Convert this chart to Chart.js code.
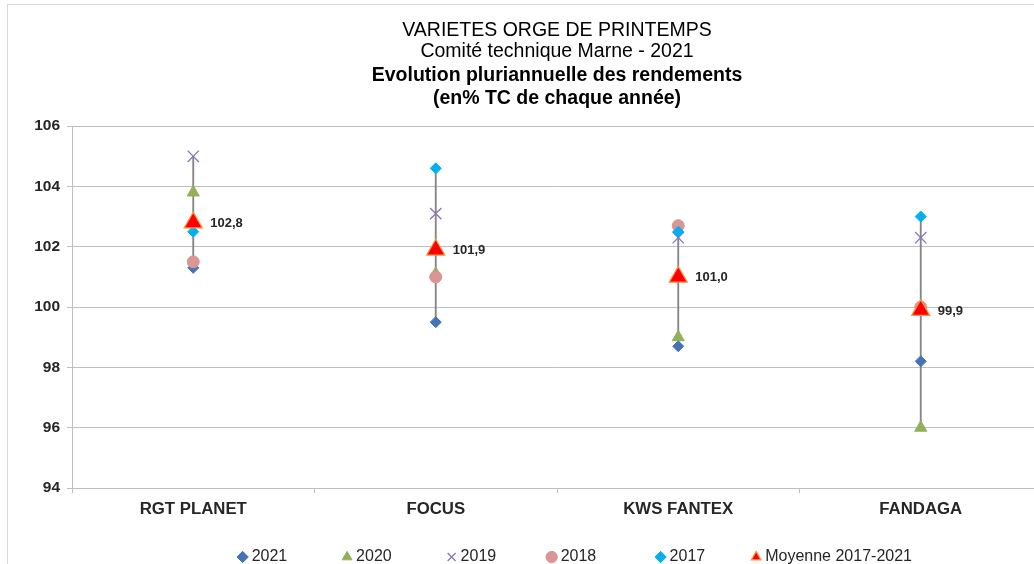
<!DOCTYPE html>
<html>
<head>
<meta charset="utf-8">
<script src="https://cdn.jsdelivr.net/npm/chart.js@4/dist/chart.umd.min.js"></script>
<style>
  html, body { margin: 0; padding: 0; background: #fff; overflow: hidden; }
  #frame { position: absolute; left: 7px; top: 4px; border-left: 1px solid #d9d9d9; border-top: 1px solid #d9d9d9; width: 1200px; height: 700px; }
  #chart { display: block; }
</style>
</head>
<body>
<div id="frame"><canvas id="chart" width="1102" height="570"></canvas></div>
<script>
const categories = ["RGT PLANET", "FOCUS", "KWS FANTEX", "FANDAGA"];
const y2021 = [101.3, 99.5, 98.7, 98.2];
const y2020 = [103.8, 101.1, 99.0, 96.0];
const y2019 = [105.0, 103.1, 102.3, 102.3];
const y2018 = [101.5, 101.0, 102.7, 100.0];
const y2017 = [102.5, 104.6, 102.5, 103.0];
const moyenne = [102.8, 101.9, 101.0, 99.9];
const yTicks = [94, 96, 98, 100, 102, 104, 106];

const FONT = "'Liberation Sans', Arial, sans-serif";

// trait vertical min-max pour chaque variété
const allSeries = [y2021, y2020, y2019, y2018, y2017];
const ranges = categories.map((c, i) => {
  const v = allSeries.map(s => s[i]);
  return [Math.min(...v), Math.max(...v)];
});

// espaces ajoutés derrière chaque libellé de légende pour l'espacement
const legendGaps = [11, 11, 10, 12, 9, 27];

const avgLabels = {
  id: "avgLabels",
  afterDatasetsDraw(chart) {
    const idx = chart.data.datasets.findIndex(d => d.label === "Moyenne 2017-2021");
    const meta = chart.getDatasetMeta(idx);
    const ctx = chart.ctx;
    ctx.save();
    ctx.font = "bold 13px " + FONT;
    ctx.fillStyle = "#262626";
    ctx.textAlign = "left";
    ctx.textBaseline = "middle";
    meta.data.forEach((pt, i) => {
      ctx.fillText(moyenne[i].toFixed(1).replace(".", ","), pt.x + 17, pt.y + 1);
    });
    ctx.restore();
  }
};

const pointSet = (label, data, style, radius, fill, border, width, order) => ({
  type: "line",
  label: label,
  data: data,
  showLine: false,
  pointStyle: style,
  pointRadius: radius,
  pointHoverRadius: radius,
  pointBackgroundColor: fill,
  pointBorderColor: border,
  backgroundColor: fill,
  borderColor: border,
  pointBorderWidth: width,
  borderWidth: width,
  order: order
});

const ctx = document.getElementById("chart").getContext("2d");
new Chart(ctx, {
  type: "bar",
  data: {
    labels: categories,
    datasets: [
      pointSet("2021", y2021, "rectRot", 5.5, "#4573b5", "#4573b5", 1, 5),
      pointSet("2020", y2020, "triangle", 7, "#92b057", "#92b057", 1, 4),
      pointSet("2019", y2019, "crossRot", 8, "#8a75b6", "#8a75b6", 1.3, 3),
      pointSet("2018", y2018, "circle", 6, "#d99694", "#d99694", 1, 2),
      pointSet("2017", y2017, "rectRot", 5.5, "#00b0f0", "#00b0f0", 1, 1),
      pointSet("Moyenne 2017-2021", moyenne, "triangle", 10.5, "#ff0000", "#f79646", 1.2, 0),
      {
        type: "bar",
        label: "range",
        data: ranges,
        backgroundColor: "#858585",
        borderWidth: 0,
        barThickness: 1.2,
        order: 6
      }
    ]
  },
  options: {
    responsive: false,
    animation: false,
    layout: { padding: { left: 0, right: 68, top: 0, bottom: 0 } },
    plugins: {
      tooltip: { enabled: false },
      title: {
        display: true,
        fullSize: false,
        text: ["VARIETES ORGE DE PRINTEMPS", "Comité technique Marne - 2021"],
        color: "#000",
        font: { family: FONT, size: 19.5, weight: "normal", lineHeight: 1.08 },
        padding: { top: 15.5, bottom: 0 }
      },
      subtitle: {
        display: true,
        fullSize: false,
        text: ["Evolution pluriannuelle des rendements", "(en% TC de chaque année)"],
        color: "#000",
        font: { family: FONT, size: 19.5, weight: "bold", lineHeight: 1.18 },
        padding: { top: 1, bottom: 16.5 }
      },
      legend: {
        position: "bottom",
        align: "end",
        labels: {
          usePointStyle: true,
          boxWidth: 2,
          boxHeight: 8,
          padding: 10,
          color: "#262626",
          font: { family: FONT, size: 16 },
          filter: item => item.text !== "range",
          sort: (a, b) => a.datasetIndex - b.datasetIndex,
          generateLabels(chart) {
            const items = Chart.defaults.plugins.legend.labels.generateLabels(chart);
            items.forEach(it => {
              const k = it.datasetIndex;
              if (k < legendGaps.length) it.text = it.text + " ".repeat(legendGaps[k]);
            });
            return items;
          }
        }
      }
    },
    scales: {
      x: {
        offset: true,
        afterFit: s => { s.height = 51; },
        grid: { offset: true, drawOnChartArea: false, drawTicks: true, tickLength: 5, color: "#bfbfbf" },
        border: { display: true, color: "#bfbfbf" },
        ticks: { color: "#262626", padding: 6, font: { family: FONT, size: 16.8, weight: "bold" } }
      },
      y: {
        min: 94,
        max: 106,
        afterFit: s => { s.width = 64; },
        afterBuildTicks: s => { s.ticks = yTicks.map(v => ({ value: v })); },
        grid: { color: "#bfbfbf", tickLength: 5, tickColor: "#bfbfbf" },
        border: { display: true, color: "#bfbfbf" },
        ticks: { color: "#262626", padding: 7, font: { family: FONT, size: 15.5, weight: "bold" } }
      }
    }
  },
  plugins: [avgLabels]
});
</script>
</body>
</html>
